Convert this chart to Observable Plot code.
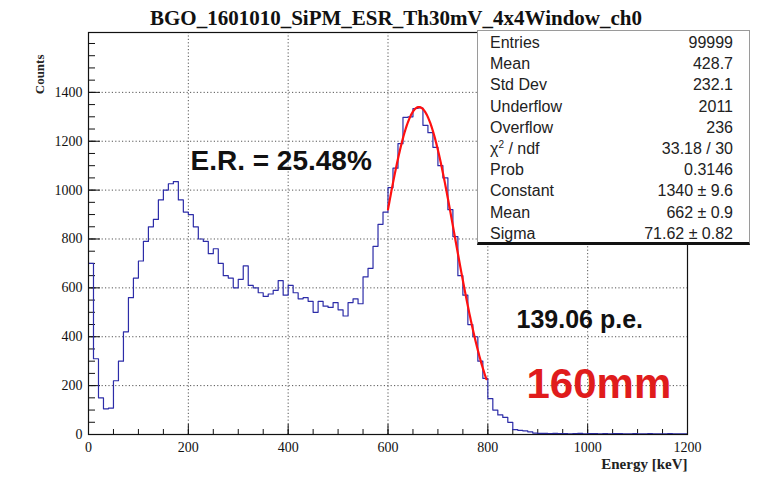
<!DOCTYPE html>
<html>
<head>
<meta charset="utf-8">
<script src="https://cdn.jsdelivr.net/npm/d3@7"></script>
<script src="https://cdn.jsdelivr.net/npm/@observablehq/plot@0.6"></script>
<style>
  body { margin: 0; background: #fff; }
  #wrap { position: relative; width: 777px; height: 478px; }
  #stats {
    position: absolute; left: 477px; top: 30px; width: 273px; height: 215px;
    background: #fff; box-sizing: border-box;
    border: 1px solid #9a9a9a; border-bottom: 3px solid #111;
    font-family: "Liberation Sans", Arial, sans-serif; font-size: 16px; color: #222;
  }
  #stats .row {
    position: absolute; left: 12px; right: 16px; height: 18px; line-height: 18px;
    display: flex; justify-content: space-between; white-space: nowrap;
  }
  #stats sup { font-size: 10px; line-height: 0; }
</style>
</head>
<body>
<div id="wrap"></div>
<script>
// Histogram: 10 keV bins from 0 to 1200 keV
const binWidth = 10;
const counts = [
  700, 310, 150, 105, 108, 220, 300, 420, 560, 640,
  710, 790, 850, 880, 960, 1000, 1026, 1035, 960, 910,
  900, 850, 800, 790, 740, 760, 700, 650, 640, 600,
  635, 690, 610, 600, 580, 565, 575, 590, 630, 570,
  610, 580, 555, 560, 545, 500, 545, 525, 520, 540,
  510, 485, 540, 555, 535, 645, 680, 770, 860, 910,
  1010, 1090, 1190, 1298, 1300, 1334, 1336, 1265, 1235, 1175,
  1100, 1050, 920, 810, 650, 570, 450, 400, 300, 230,
  147, 100, 80, 70, 50, 20, 17, 15, 11, 6,
  5, 5, 4, 5, 4, 4, 3, 4, 5, 3,
  4, 4, 3, 4, 3, 4, 4, 3, 3, 4,
  3, 3, 4, 3, 3, 3, 4, 3, 3, 3
];

// Gaussian fit parameters (from the fit result)
const fitConstant = 1340;
const fitMean = 662;
const fitSigma = 71.62;
const fitRange = [600, 797];

// Axes
const xTicks = [0, 200, 400, 600, 800, 1000, 1200];
const yTicks = [0, 200, 400, 600, 800, 1000, 1200, 1400];
const xGrid = [200, 400, 600, 800, 1000];
const yGrid = [200, 400, 600, 800, 1000, 1200, 1400];
const xMinor = d3.range(0, 1201, 50);
const yMinor = d3.range(0, 1645, 50);

// Statistics box
const statsLabels = ["Entries", "Mean", "Std Dev", "Underflow", "Overflow", "χ<sup>2</sup> / ndf", "Prob", "Constant", "Mean", "Sigma"];
const statsValues = ["99999", "428.7", "232.1", "2011", "236", "33.18 / 30", "0.3146", "1340 ± 9.6", "662 ± 0.9", "71.62 ± 0.82"];

const title = "BGO_1601010_SiPM_ESR_Th30mV_4x4Window_ch0";
const resolutionText = "E.R. = 25.48%";
const photoelectronText = "139.06 p.e.";
const lengthText = "160mm";

const hist = counts.map((c, i) => ({x: i * binWidth, y: c}));
hist.push({x: counts.length * binWidth, y: counts[counts.length - 1]});

const fit = d3.range(fitRange[0], fitRange[1] + 0.5, 1).map(e => ({
  x: e,
  y: fitConstant * Math.exp(-0.5 * ((e - fitMean) / fitSigma) ** 2)
}));

const W = 777, H = 478, mL = 88, mR = 90, mT = 32, mB = 44;
const innerW = W - mL - mR, innerH = H - mT - mB;
const serif = "'Liberation Serif', 'Times New Roman', serif";
const sans = "'Liberation Sans', Arial, sans-serif";
const plain = d3.format("d");

const chart = Plot.plot({
  width: W, height: H,
  marginLeft: mL, marginRight: mR, marginTop: mT, marginBottom: mB,
  style: {fontFamily: serif, fontSize: "14px", color: "#111", background: "#fff"},
  x: {domain: [0, 1200]},
  y: {domain: [0, 1645]},
  marks: [
    Plot.ruleX(xGrid, {stroke: "#555", strokeDasharray: "1.2,2.2"}),
    Plot.ruleY(yGrid, {stroke: "#555", strokeDasharray: "1.2,2.2"}),
    // inward tick marks
    Plot.ruleX(xMinor, {stroke: "#111", insetTop: innerH - 5}),
    Plot.ruleX(xTicks, {stroke: "#111", insetTop: innerH - 10}),
    Plot.ruleY(yMinor, {stroke: "#111", insetRight: innerW - 7}),
    Plot.ruleY(yTicks, {stroke: "#111", insetRight: innerW - 12}),
    Plot.line(hist, {x: "x", y: "y", curve: "step-after", stroke: "#2c2ca8", strokeWidth: 1.2}),
    Plot.line(fit, {x: "x", y: "y", stroke: "#ff1010", strokeWidth: 2.2}),
    Plot.frame({stroke: "#111", strokeWidth: 1.2}),
    Plot.axisX({ticks: xTicks, tickSize: 0, tickPadding: 8, tickFormat: plain, label: null, fontSize: 14}),
    Plot.axisY({ticks: yTicks, tickSize: 0, tickPadding: 6, tickFormat: plain, label: null, fontSize: 14}),
    Plot.text([title], {frameAnchor: "top", dx: 8, dy: -22, fontFamily: serif, fontWeight: "bold", fontSize: 21, fill: "#111"}),
    Plot.text(["Counts"], {frameAnchor: "top-left", dx: -54, dy: 22, rotate: -90, textAnchor: "end", fontFamily: serif, fontWeight: "bold", fontSize: 13, fill: "#222"}),
    Plot.text(["Energy [keV]"], {frameAnchor: "bottom-right", dy: 34, textAnchor: "end", fontFamily: serif, fontWeight: "bold", fontSize: 15, fill: "#222"}),
    Plot.text([resolutionText], {frameAnchor: "top-left", dx: 102, dy: 137, lineAnchor: "bottom", textAnchor: "start", fontFamily: sans, fontWeight: "bold", fontSize: 28, fill: "#111"}),
    Plot.text([photoelectronText], {frameAnchor: "top-left", dx: 428, dy: 295, lineAnchor: "bottom", textAnchor: "start", fontFamily: sans, fontWeight: "bold", fontSize: 25, fill: "#111"}),
    Plot.text([lengthText], {frameAnchor: "top-left", dx: 438, dy: 365, lineAnchor: "bottom", textAnchor: "start", fontFamily: sans, fontWeight: "bold", fontSize: 42, fill: "#e01c1c"})
  ]
});

const wrap = document.getElementById("wrap");
wrap.appendChild(chart);

// statistics panel drawn over the upper-right corner of the frame
const stats = document.createElement("div");
stats.id = "stats";
statsLabels.forEach((label, i) => {
  const row = document.createElement("div");
  row.className = "row";
  row.style.top = (3 + i * 21.2) + "px";
  row.innerHTML = `<span>${label}</span><span>${statsValues[i]}</span>`;
  stats.appendChild(row);
});
wrap.appendChild(stats);
</script>
</body>
</html>
